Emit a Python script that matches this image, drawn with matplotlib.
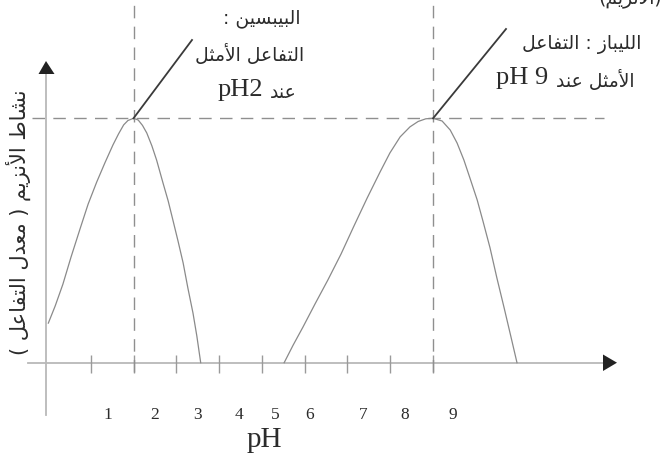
import re
import matplotlib
matplotlib.use("Agg")
import matplotlib.pyplot as plt
from matplotlib.patches import Polygon

# enzyme activity against pH (activity relative to the optimum = 100)
pepsin_ph = [0.01, 0.17, 0.35, 0.54, 0.75, 0.94, 1.14, 1.33, 1.52, 1.65, 1.77, 1.87,
             2.0, 2.11, 2.21, 2.31, 2.43, 2.54, 2.69, 2.81, 2.92, 3.04, 3.16, 3.27,
             3.39, 3.48, 3.57]
pepsin_act = [16.2, 23.2, 32.1, 43.2, 54.7, 64.9, 73.9, 81.7, 89.1, 93.6, 97.3, 99.1,
              100, 99.3, 97.1, 94.0, 88.7, 82.9, 73.5, 66.2, 58.4, 49.8, 40.8, 30.6,
              20.3, 10.9, 0]
lipase_ph = [5.52, 5.73, 5.96, 6.24, 6.54, 6.85, 7.15, 7.46, 7.76, 7.99, 8.23, 8.46,
             8.65, 8.83, 9.0, 9.21, 9.40, 9.56, 9.72, 9.86, 10.03, 10.17, 10.33,
             10.49, 10.66, 10.82, 10.96]
lipase_act = [0, 7.2, 14.6, 24.0, 33.8, 44.5, 55.9, 67.4, 78.0, 85.8, 92.4, 96.5,
              98.7, 99.8, 100, 98.9, 95.2, 89.9, 82.9, 75.6, 66.6, 57.6, 47.0,
              34.7, 22.4, 10.5, 0]
optimum_ph = [2, 9]
optimum_act = 100

tick_ph = [1, 2, 3, 4, 5, 6, 7, 8, 9]
tick_labels = ["1", "2", "3", "4", "5", "6", "7", "8", "9"]

pepsin_title = "البيبسين :"
pepsin_note = "التفاعل الأمثل"
lipase_title = "الليباز : التفاعل"
lipase_note = "الأمثل عند"
at_word = "عند"
y_title = "نشاط الأنزيم ( معدل التفاعل )"

# --- minimal arabic shaping: contextual forms + right-to-left order ---
RIGHT = {"ا": (0xFE8D, 0xFE8E), "أ": (0xFE83, 0xFE84), "إ": (0xFE87, 0xFE88),
         "آ": (0xFE81, 0xFE82), "د": (0xFEA9, 0xFEAA), "ذ": (0xFEAB, 0xFEAC),
         "ر": (0xFEAD, 0xFEAE), "ز": (0xFEAF, 0xFEB0), "و": (0xFEED, 0xFEEE),
         "ة": (0xFE93, 0xFE94), "ى": (0xFEEF, 0xFEF0)}
DUAL = {"ب": 0xFE8F, "ت": 0xFE95, "ث": 0xFE99, "ج": 0xFE9D, "ح": 0xFEA1,
        "خ": 0xFEA5, "س": 0xFEB1, "ش": 0xFEB5, "ص": 0xFEB9, "ض": 0xFEBD,
        "ط": 0xFEC1, "ظ": 0xFEC5, "ع": 0xFEC9, "غ": 0xFECD, "ف": 0xFED1,
        "ق": 0xFED5, "ك": 0xFED9, "ل": 0xFEDD, "م": 0xFEE1, "ن": 0xFEE5,
        "ه": 0xFEE9, "ي": 0xFEF1}
LAM_ALEF = {"ا": 0xFEFB, "أ": 0xFEF7, "إ": 0xFEF9, "آ": 0xFEF5}


def shape(text):
    out = []
    i = 0
    while i < len(text):
        ch = text[i]
        prev = text[i - 1] if i > 0 else ""
        nxt = text[i + 1] if i + 1 < len(text) else ""
        joined = prev in DUAL and (ch in DUAL or ch in RIGHT)
        if ch == "ل" and nxt in LAM_ALEF:
            out.append(chr(LAM_ALEF[nxt] + joined))
            i += 2
            continue
        if ch in DUAL:
            ahead = nxt in DUAL or nxt in RIGHT
            base = DUAL[ch]
            code = base + (3 if joined and ahead else 1 if joined else 2 if ahead else 0)
            out.append(chr(code))
        elif ch in RIGHT:
            out.append(chr(RIGHT[ch][1] if joined else RIGHT[ch][0]))
        else:
            out.append(ch)
        i += 1
    return "".join(out)


def rtl(text):
    s = shape(text)[::-1].translate(str.maketrans("()", ")("))
    return re.sub(r"[A-Za-z0-9]+(?: [A-Za-z0-9]+)*", lambda m: m.group(0)[::-1], s)


# pixel layout of the drawing
W, H = 672, 470
PH0_PX, PX_PER_PH = 47.9, 42.8
Y0_PX, PX_PER_ACT = 362.7, 2.444


def xd(px):
    return (px - PH0_PX) / PX_PER_PH


def yd(py):
    return (Y0_PX - py) / PX_PER_ACT


AR = "DejaVu Sans"
SERIF = "Liberation Serif"
INK = "#2b2b2b"
AR_SIZE = 13.5

fig = plt.figure(figsize=(W / 100, H / 100), dpi=100)
ax = fig.add_axes([0, 0, 1, 1])
ax.set_xlim(xd(0), xd(W))
ax.set_ylim(yd(H), yd(0))
ax.axis("off")

# axes with arrow heads
ax.plot([xd(28), xd(604)], [0, 0], color="#b9b9b9", lw=1.3, zorder=1)
ax.add_patch(Polygon([(xd(617), 0), (xd(603), yd(354.5)), (xd(603), yd(371))],
                     closed=True, color="#222222", lw=0))
ax.plot([xd(46), xd(46)], [yd(415), yd(72)], color="#b9b9b9", lw=1.3, zorder=1)
ax.add_patch(Polygon([(xd(46), yd(61)), (xd(38.5), yd(74)), (xd(54.5), yd(74))],
                     closed=True, color="#222222", lw=0))
ax.vlines(tick_ph, yd(373), yd(355), colors="#9a9a9a", lw=1.0)

# guide lines through the optimum
ax.hlines(optimum_act, xd(32), xd(604), colors="#8f8f8f", lw=1.0,
          linestyles=(0, (9, 6)))
ax.vlines(optimum_ph, yd(372), yd(0), colors="#8f8f8f", lw=1.0,
          linestyles=(0, (9, 6)))

# activity curves
ax.plot(pepsin_ph, pepsin_act, color="#8a8a8a", lw=0.9, solid_joinstyle="round")
ax.plot(lipase_ph, lipase_act, color="#8a8a8a", lw=0.9, solid_joinstyle="round")

# pointer lines from each peak
ax.plot([optimum_ph[0], xd(192)], [optimum_act, yd(40)], color="#3a3a3a", lw=1.3)
ax.plot([optimum_ph[1], xd(506)], [optimum_act, yd(29)], color="#3a3a3a", lw=1.3)

# tick labels sit between the tick marks
label_px = [108, 155, 197, 239, 275, 310, 363, 405, 453]
for px, lab in zip(label_px, tick_labels):
    ax.text(xd(px), yd(415), lab, family=SERIF, fontsize=12.5, color=INK,
            ha="center", va="center")
ax.text(xd(264), yd(440), "pH", family=SERIF, fontsize=21, color=INK,
        ha="center", va="center")

ax.text(xd(18), yd(222), rtl(y_title), family=AR, fontsize=15, color=INK,
        rotation=90, ha="center", va="center")

# annotations
ax.text(xd(262), yd(18), rtl(pepsin_title), family=AR, fontsize=AR_SIZE, color=INK,
        ha="center", va="center")
ax.text(xd(250), yd(54), rtl(pepsin_note), family=AR, fontsize=AR_SIZE, color=INK,
        ha="center", va="center")
ax.text(xd(263), yd(90), "pH2", family=SERIF, fontsize=19, color=INK,
        ha="right", va="center")
ax.text(xd(270), yd(92), rtl(at_word), family=AR, fontsize=AR_SIZE, color=INK,
        ha="left", va="center")

ax.text(xd(582), yd(44), rtl(lipase_title), family=AR, fontsize=AR_SIZE, color=INK,
        ha="center", va="center")
ax.text(xd(548), yd(78), "pH 9", family=SERIF, fontsize=19, color=INK,
        ha="right", va="center")
ax.text(xd(556), yd(80), rtl(lipase_note), family=AR, fontsize=AR_SIZE, color=INK,
        ha="left", va="center")
ax.text(xd(662), yd(-3), rtl("(الأنزيم)"), family=AR, fontsize=AR_SIZE, color=INK,
        ha="right", va="center")

fig.savefig("out.png", dpi=100)
